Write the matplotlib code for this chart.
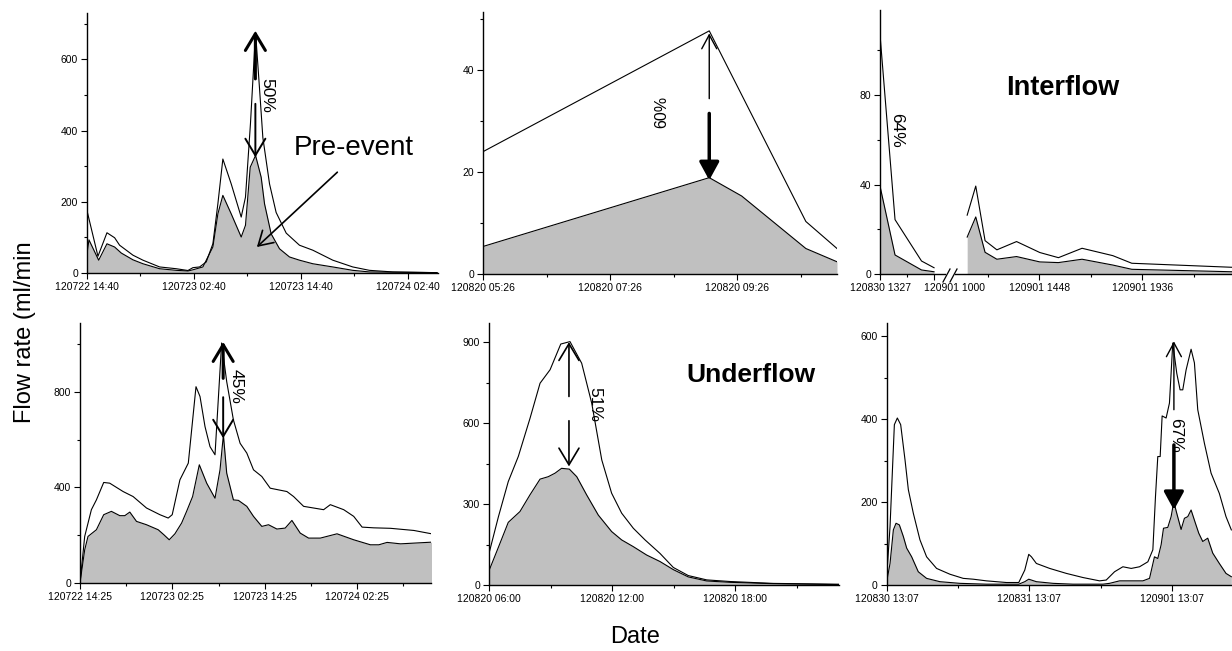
import matplotlib.pyplot as plt
from matplotlib.lines import Line2D

plt.rcParams['font.family'] = ['Liberation Sans', 'DejaVu Sans']

W, H = 1232, 651
GRAY = '#c0c0c0'

# ---- data: x in hours (minutes for the interflow panel) after the first tick, flow in ml/min ----
# top left
p1_total_x = [0, 1.23, 2.24, 3.10, 3.66, 5.16, 6.28, 8.15, 10.02, 11.33, 11.89, 12.64, 13.38, 14.13,
              14.69, 15.25, 16.19, 17.31, 17.79, 18.35, 18.92, 19.36, 19.74, 20.49, 21.23, 22.36,
              23.85, 25.35, 27.59, 29.83, 31.70, 34.32, 39.29]
p1_total_y = [175, 47, 113, 99, 78, 50, 36, 17, 12, 7, 15, 17, 31, 82, 194, 320, 250, 157, 213, 420,
              676, 520, 380, 250, 170, 112, 78, 64, 36, 17, 7.5, 3, 1]
p1_pre_x = [0, 0.22, 1.31, 2.24, 3.10, 3.85, 5.16, 6.28, 8.15, 10.02, 11.33, 11.89, 13.01, 14.13,
            14.69, 15.25, 16.19, 17.31, 17.79, 18.32, 18.92, 19.55, 19.93, 20.67, 21.61, 22.73,
            23.85, 25.35, 27.59, 29.83, 31.70, 39.29]
p1_pre_y = [54, 93, 36, 82, 73, 56, 37, 26, 12, 7.5, 5.6, 9, 17, 73, 166, 218, 166, 101, 134, 297,
            330, 269, 194, 110, 68, 45, 36, 26, 17, 7.5, 3, 1]
p1_ticks = ['120722 14:40', '120723 02:40', '120723 14:40', '120724 02:40']

# top middle
p2_total_x = [0, 3.56, 5.08, 5.57]
p2_total_y = [24, 47.7, 10.3, 5.0]
p2_pre_x = [0, 3.56, 4.07, 5.08, 5.57]
p2_pre_y = [5.4, 18.9, 15.3, 5.0, 2.4]
p2_ticks = ['120820 05:26', '120820 07:26', '120820 09:26']

# top right (interflow), broken axis: minutes after 120830 13:27 / after 120901 10:00
p3a_total_x = [0, 42, 116, 151]
p3a_total_y = [107, 24.3, 5.8, 2.8]
p3a_pre_x = [0, 42, 116, 151]
p3a_pre_y = [39.3, 8.5, 1.8, 1.0]
p3b_total_x = [87, 111, 137, 170, 225, 290, 342, 408, 494, 547, 827]
p3b_total_y = [26.3, 39.3, 14.9, 10.8, 14.5, 9.6, 7.3, 11.5, 8.2, 4.8, 3.0]
p3b_pre_x = [87, 111, 137, 170, 225, 290, 342, 408, 494, 547, 827]
p3b_pre_y = [16.5, 25.5, 9.7, 6.6, 7.8, 5.4, 5.1, 6.6, 4.0, 2.1, 1.0]
p3_ticks = ['120830 1327', '120901 1000', '120901 1448', '120901 1936']

# bottom left
p4_total_x = [0, 0.61, 1.48, 2.13, 3.08, 3.86, 5.60, 6.90, 8.64, 10.38, 11.46, 11.98, 12.98, 14.07,
              15.07, 15.59, 16.24, 16.89, 17.54, 18.40, 19.06, 19.93, 20.80, 21.67, 22.54, 23.62,
              24.71, 25.79, 26.88, 27.75, 29.05, 30.35, 31.65, 32.52, 34.26, 35.56, 36.65, 38.17,
              40.34, 43.38, 45.68]
p4_total_y = [0, 195, 307, 348, 421, 418, 383, 362, 314, 286, 272, 286, 432, 502, 822, 781, 655, 571,
              537, 1005, 843, 683, 585, 544, 474, 446, 397, 390, 383, 362, 321, 314, 307, 328, 307,
              279, 234, 231, 229, 220, 206]
p4_pre_x = [0, 0.61, 1.04, 2.13, 3.08, 4.08, 5.17, 5.82, 6.47, 7.34, 8.64, 10.16, 10.90, 11.59, 12.33,
            13.20, 13.85, 14.63, 15.50, 16.46, 17.54, 18.19, 18.63, 19.06, 19.93, 20.58, 21.67,
            22.54, 23.62, 24.49, 25.58, 26.66, 27.53, 28.61, 29.70, 31.22, 33.39, 35.56, 37.73,
            38.82, 39.90, 41.64, 45.68]
p4_pre_y = [0, 139, 195, 223, 286, 300, 282, 282, 297, 258, 244, 223, 202, 181, 206, 251, 300, 362,
            495, 418, 355, 474, 620, 460, 348, 346, 321, 279, 237, 244, 226, 230, 262, 209, 188,
            188, 206, 181, 160, 160, 170, 164, 171]
p4_ticks = ['120722 14:25', '120723 02:25', '120723 14:25', '120724 02:25']

# bottom middle (underflow)
p5_total_x = [0, 0.46, 0.94, 1.43, 2.0, 2.49, 2.98, 3.50, 3.95, 4.52, 5.01, 5.50, 5.98, 6.47, 7.04,
              7.61, 8.34, 8.99, 9.72, 10.62, 11.76, 13.87, 17.07]
p5_total_y = [118, 254, 384, 477, 618, 748, 798, 893, 902, 822, 674, 464, 341, 267, 211, 168, 118,
              66, 36, 20, 14, 7, 4]
p5_pre_x = [0, 0.46, 0.94, 1.51, 2.0, 2.49, 2.89, 3.22, 3.54, 3.92, 4.28, 4.76, 5.33, 5.98, 6.47,
            7.04, 7.69, 8.34, 8.99, 9.72, 10.62, 11.76, 13.87, 17.07]
p5_pre_y = [54, 141, 233, 273, 335, 393, 402, 415, 433, 430, 402, 335, 260, 199, 168, 143, 112, 88,
            58, 31, 16, 11, 6, 2.5]
p5_ticks = ['120820 06:00', '120820 12:00', '120820 18:00']

# bottom right
p6_total_x = [0, 0.56, 1.29, 1.79, 2.35, 3.08, 3.64, 4.48, 5.59, 6.71, 8.39, 10.63, 12.87, 14.55,
              16.78, 20.14, 22.21, 23.22, 23.89, 24.34, 25.17, 27.41, 30.21, 33.01, 35.80, 36.92,
              38.32, 39.72, 41.12, 42.52, 43.92, 44.76, 45.20, 45.59, 45.99, 46.32, 46.99, 47.55,
              48.11, 48.78, 49.34, 49.79, 50.35, 51.19, 51.75, 52.31, 53.43, 54.55, 55.94, 57.06,
              57.96]
p6_total_y = [20, 141, 387, 403, 387, 302, 230, 173, 109, 68, 40, 26, 16, 14, 10, 6, 6, 36, 74, 68,
              52, 40, 28, 18, 10, 12, 32, 44, 40, 44, 56, 85, 213, 310, 310, 408, 403, 439, 584,
              511, 471, 471, 519, 569, 536, 423, 342, 270, 221, 165, 133]
p6_pre_x = [0, 0.56, 1.12, 1.57, 2.13, 2.80, 3.36, 4.20, 5.31, 6.71, 8.95, 12.31, 16.78, 22.21, 23.22,
            23.89, 25.17, 27.97, 31.33, 36.36, 37.48, 39.16, 40.84, 43.08, 44.20, 45.03, 45.59,
            46.15, 46.55, 47.27, 47.83, 48.28, 48.78, 49.51, 50.07, 50.63, 51.19, 51.92, 52.48,
            53.15, 53.99, 54.83, 55.94, 57.06, 57.96]
p6_pre_y = [8, 52, 133, 149, 145, 117, 89, 68, 32, 16, 8, 4, 2, 2, 8, 14, 8, 4, 2, 2, 4, 10, 10, 10,
            16, 68, 64, 97, 137, 139, 165, 201, 173, 134, 161, 165, 181, 149, 125, 105, 113, 77,
            52, 28, 20]
p6_ticks = ['120830 13:07', '120831 13:07', '120901 13:07']


def add_ax(fig, left, right, top, bottom):
    # axes placed by pixel edges of the reference picture
    return fig.add_axes([left / W, 1 - bottom / H, (right - left) / W, (bottom - top) / H])


def style(ax, xlim, ylim, xmaj, xlabels, xmin, ymaj, ymin, left=True):
    ax.set_xlim(xlim)
    ax.set_ylim(ylim)
    ax.spines['top'].set_visible(False)
    ax.spines['right'].set_visible(False)
    ax.spines['bottom'].set_linewidth(1.0)
    ax.spines['left'].set_linewidth(1.0)
    ax.set_xticks(xmaj)
    ax.set_xticklabels(xlabels)
    ax.set_xticks(xmin, minor=True)
    if left:
        ax.set_yticks(ymaj)
        ax.set_yticklabels([str(v) for v in ymaj])
        ax.set_yticks(ymin, minor=True)
    else:
        ax.spines['left'].set_visible(False)
        ax.set_yticks([])
    ax.tick_params(which='major', direction='out', length=4, width=0.8, labelsize=7.5, pad=2.5)
    ax.tick_params(which='minor', direction='out', length=2.5, width=0.8)
    ax.patch.set_alpha(0)


def draw(ax, tx, ty, px, py):
    ax.fill_between(px, py, 0, color=GRAY, lw=0)
    ax.plot(px, py, color='black', lw=0.8)
    ax.plot(tx, ty, color='black', lw=0.8)


def arrow(ax, x, y0, y1, kind, lw):
    if kind == 'open':
        style_ = '->,head_length=0.6,head_width=0.36'
    elif kind == 'thin':
        style_ = '->,head_length=0.5,head_width=0.27'
    else:
        style_ = '-|>,head_length=0.55,head_width=0.3'
    ax.annotate('', xy=(x, y1), xytext=(x, y0),
                arrowprops=dict(arrowstyle=style_, lw=lw, color='black', mutation_scale=20,
                                shrinkA=0, shrinkB=0))


fig = plt.figure(figsize=(W / 100, H / 100), dpi=100)

# top left
ax1 = add_ax(fig, 87, 438, 13, 273)
draw(ax1, p1_total_x, p1_total_y, p1_pre_x, p1_pre_y)
style(ax1, (0, 39.4), (0, 730), [0, 12, 24, 36], p1_ticks, [6, 18, 30],
      [0, 200, 400, 600], [100, 300, 500, 700])
arrow(ax1, 18.9, 545, 680, 'open', 2.2)
arrow(ax1, 18.9, 475, 325, 'open', 1.4)
ax1.text(20.2, 499, '50%', rotation=270, fontsize=12.5, ha='center', va='center')
ax1.text(29.9, 350, 'Pre-event', fontsize=20, ha='center', va='center')
ax1.annotate('', xy=(19.07, 73), xytext=(28.1, 283),
             arrowprops=dict(arrowstyle='->,head_length=0.5,head_width=0.3', lw=1.2,
                             color='black', mutation_scale=20, shrinkA=0, shrinkB=0))

# top middle
ax2 = add_ax(fig, 483, 837, 12, 274)
draw(ax2, p2_total_x, p2_total_y, p2_pre_x, p2_pre_y)
style(ax2, (0, 5.57), (0, 51.4), [0, 2, 4], p2_ticks, [1, 3, 5], [0, 20, 40], [10, 30, 50])
arrow(ax2, 3.56, 34.4, 47.2, 'thin', 1.0)
arrow(ax2, 3.56, 31.5, 18.4, 'filled', 2.5)
ax2.text(2.82, 31.8, '60%', rotation=90, fontsize=11.5, ha='center', va='center')

# top right, broken x axis
ax3a = add_ax(fig, 880, 945, 10, 274)
draw(ax3a, p3a_total_x, p3a_total_y, p3a_pre_x, p3a_pre_y)
style(ax3a, (0, 181.6), (0, 118), [0, 151], [p3_ticks[0], ''], [75],
      [0, 40, 80], [20, 60, 100])
ax3a.annotate(p3_ticks[1], xy=(151, 0), xycoords=('data', 'axes fraction'),
              xytext=(15, -6.5), textcoords='offset points', ha='center', va='top', fontsize=7.5)
ax3a.text(47.5, 64.3, '64%', rotation=270, fontsize=12.5, ha='center', va='center')

ax3b = add_ax(fig, 955, 1232, 10, 274)
draw(ax3b, p3b_total_x, p3b_total_y, p3b_pre_x, p3b_pre_y)
style(ax3b, (53, 827), (0, 118), [288, 576], p3_ticks[2:], [144, 432, 720],
      [], [], left=False)
ax3b.text(355, 83, 'Interflow', fontsize=19.5, fontweight='bold', ha='center', va='center')

for x0 in (943, 950):
    fig.add_artist(Line2D([x0 / W, (x0 + 7) / W], [1 - 282 / H, 1 - 269 / H],
                          color='black', lw=0.9))

# bottom left
ax4 = add_ax(fig, 80, 431, 322.7, 583)
draw(ax4, p4_total_x, p4_total_y, p4_pre_x, p4_pre_y)
style(ax4, (0, 45.6), (0, 1090), [0, 12, 24, 36], p4_ticks, [6, 18, 30, 42],
      [0, 400, 800], [200, 600, 1000])
arrow(ax4, 18.6, 857, 1010, 'open', 2.2)
arrow(ax4, 18.6, 778, 606, 'open', 1.4)
ax4.text(20.3, 825, '45%', rotation=270, fontsize=12.5, ha='center', va='center')

# bottom middle
ax5 = add_ax(fig, 489, 839, 322.7, 585.3)
draw(ax5, p5_total_x, p5_total_y, p5_pre_x, p5_pre_y)
style(ax5, (0, 17.07), (0, 972), [0, 6, 12], p5_ticks, [3, 9, 15],
      [0, 300, 600, 900], [150, 450, 750])
arrow(ax5, 3.9, 699, 900, 'open', 1.2)
arrow(ax5, 3.9, 609, 440, 'open', 1.2)
ax5.text(5.17, 671, '51%', rotation=270, fontsize=12.5, ha='center', va='center')
ax5.text(12.78, 779, 'Underflow', fontsize=19, fontweight='bold', ha='center', va='center')

# bottom right
ax6 = add_ax(fig, 886.7, 1232, 322.7, 585)
draw(ax6, p6_total_x, p6_total_y, p6_pre_x, p6_pre_y)
style(ax6, (0, 58.07), (0, 633), [0, 24, 48], p6_ticks, [12, 36],
      [0, 200, 400, 600], [100, 300, 500])
arrow(ax6, 48.3, 423, 588, 'thin', 1.0)
arrow(ax6, 48.3, 338, 181, 'filled', 2.5)
ax6.text(48.65, 360, '67%', rotation=270, fontsize=12.5, ha='center', va='center')

fig.text(25 / W, 1 - 332 / H, 'Flow rate (ml/min', rotation=90, fontsize=17,
         ha='center', va='center')
fig.text(635 / W, 1 - 637 / H, 'Date', fontsize=17, ha='center', va='center')

fig.savefig('out.png', dpi=100)
